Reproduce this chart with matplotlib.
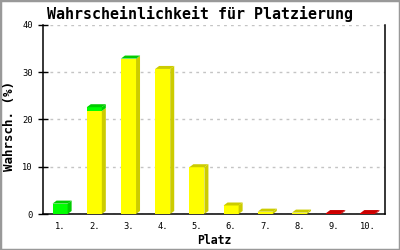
import matplotlib
matplotlib.use("Agg")
import matplotlib.pyplot as plt
from matplotlib.patches import Polygon, Rectangle
import numpy as np

# ---- data ----
plaetze = ["1.", "2.", "3.", "4.", "5.", "6.", "7.", "8.", "9.", "10."]
gelb = [0, 21.8, 32.8, 30.7, 9.9, 1.8, 0.5, 0.3, 0, 0]
gruen = [2.2, 0.8, 0.1, 0, 0, 0, 0, 0, 0, 0]
rot = [0, 0, 0, 0, 0, 0, 0, 0, 0.2, 0.2]
y_ticks = [0, 10, 20, 30, 40]
title = "Wahrscheinlichkeit für Platzierung"
xlabel = "Platz"
ylabel = "Wahrsch. (%)"

series = [(gelb, "#FFFF00", "#CCCC00"),
          (gruen, "#00FF00", "#00CC00"),
          (rot, "#DD0000", "#CC0000")]

mono = ["DejaVu Sans Mono"]
W, H = 400, 250
fig = plt.figure(figsize=(W / 100, H / 100), dpi=100)
fig.patch.set_facecolor("white")
ax = fig.add_axes([43 / W, 1 - 214 / H, (385 - 43) / W, (214 - 25) / H])

n = len(plaetze)
x = np.arange(1, n + 1)
ax.set_xlim(0.5, n + 0.5)
ax.set_ylim(0, 40)

# depth of the pseudo 3D effect (pixels -> data units)
bw = 0.44
ax_w_px = (385 - 43)
ax_h_px = (214 - 25)
dx = 4 * (n) / ax_w_px
dy = 3 * 40 / ax_h_px

bottom = np.zeros(n)
tops_color = [None] * n
for vals, front, dark in series:
    v = np.array(vals, dtype=float)
    ax.bar(x, v, bw, bottom=bottom, color=front, linewidth=0, zorder=3)
    for i in range(n):
        if v[i] > 0:
            xr = x[i] + bw / 2
            b0, b1 = bottom[i], bottom[i] + v[i]
            side = Polygon([(xr, b0), (xr + dx, b0 + dy), (xr + dx, b1 + dy), (xr, b1)],
                           closed=True, facecolor=dark, edgecolor="none", zorder=3)
            ax.add_patch(side)
            tops_color[i] = dark
    bottom = bottom + v

for i in range(n):
    if tops_color[i] is not None:
        xl = x[i] - bw / 2
        xr = x[i] + bw / 2
        t = bottom[i]
        top = Polygon([(xl, t), (xl + dx, t + dy), (xr + dx, t + dy), (xr, t)],
                      closed=True, facecolor=tops_color[i], edgecolor="none", zorder=3)
        ax.add_patch(top)

ax.set_yticks(y_ticks)
ax.set_xticks(x)
ax.set_xticklabels(plaetze, family=mono, fontsize=6.3)
ax.set_yticklabels([str(t) for t in y_ticks], family=mono, fontsize=6.3)
ax.tick_params(axis="x", length=0, pad=6)
ax.tick_params(axis="y", direction="inout", length=7, width=1, pad=4)
ax.yaxis.grid(True, color="#C4C4C4", linestyle=(0, (2.0, 3.0)), linewidth=1)
ax.set_axisbelow(True)
for s in ["left", "bottom", "right"]:
    ax.spines[s].set_linewidth(1.1)
    ax.spines[s].set_color("black")
ax.spines["top"].set_visible(False)

fig.text(200 / W, 1 - 14 / H, title, family=mono, fontweight="bold",
         fontsize=10.8, ha="center", va="center")
fig.text(214 / W, 1 - 240 / H, xlabel, family=mono, fontweight="bold",
         fontsize=8.3, ha="center", va="center")
fig.text(10 / W, 1 - 126 / H, ylabel, family=mono, fontweight="bold",
         fontsize=9.0, ha="center", va="center", rotation=90)

fig.patches.append(Rectangle((0, 0), 1, 1, transform=fig.transFigure,
                             fill=False, edgecolor="#999999", linewidth=2.5))

fig.savefig("out.png", dpi=100)
